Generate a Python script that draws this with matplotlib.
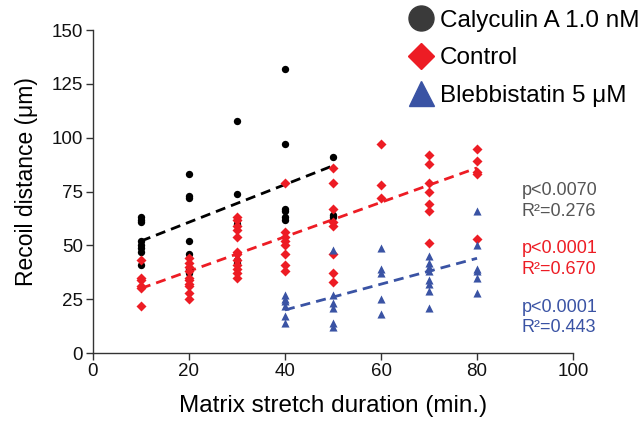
import numpy as np
import matplotlib.pyplot as plt
from matplotlib.lines import Line2D

plt.rcParams['font.family'] = ['Liberation Sans', 'DejaVu Sans']

# --- data ---
cal_x = [10]*8 + [20]*8 + [30]*6 + [40]*6 + [50]*3
cal_y = [63, 62, 61, 52, 50, 49, 47, 41,
         83, 73, 72, 52, 46, 39, 38, 37,
         108, 74, 62, 60, 43, 42,
         132, 97, 67, 66, 63, 62,
         91, 64, 63]

ctl_x = [10]*6 + [20]*10 + [30]*12 + [40]*8 + [50]*8 + [60]*3 + [70]*7 + [80]*5
ctl_y = [43, 35, 34, 31, 30, 22,
         44, 42, 40, 38, 35, 34, 32, 31, 28, 25,
         63, 62, 59, 57, 54, 47, 46, 43, 41, 39, 37, 35,
         79, 56, 54, 52, 50, 46, 41, 38,
         86, 79, 67, 61, 59, 46, 37, 33,
         97, 78, 72,
         92, 88, 79, 75, 69, 66, 51,
         95, 89, 84, 83, 53]

bleb_x = [40]*6 + [50]*6 + [60]*5 + [70]*8 + [80]*6
bleb_y = [27, 25, 24, 22, 17, 14,
          48, 27, 23, 21, 14, 12,
          49, 39, 37, 25, 18,
          45, 42, 40, 38, 34, 32, 29, 21,
          66, 50, 39, 38, 35, 28]

# regression line end points (as drawn in the reference)
cal_fit_x, cal_fit_y = [10, 50], [52, 87]
ctl_fit_x, ctl_fit_y = [10, 80], [30, 86]
bleb_fit_x, bleb_fit_y = [40, 80], [20, 44]

stats = [('p<0.0070\nR²=0.276', '#555555', 70.5),
         ('p<0.0001\nR²=0.670', '#ED1C24', 43.5),
         ('p<0.0001\nR²=0.443', '#3A53A4', 16.5)]

black, red, blue = '#000000', '#ED1C24', '#3A53A4'

fig = plt.figure(figsize=(6.41, 4.21), dpi=100)
ax = fig.add_axes([0.145, 0.1615, 0.749, 0.767])

ax.scatter(cal_x, cal_y, s=28, marker='o', color=black, zorder=3, linewidths=0)
ax.scatter(ctl_x, ctl_y, s=26, marker='D', color=red, zorder=3, linewidths=0)
ax.scatter(bleb_x, bleb_y, s=34, marker='^', color=blue, zorder=3, linewidths=0)

for fx, fy, c in [(cal_fit_x, cal_fit_y, black), (ctl_fit_x, ctl_fit_y, red),
                  (bleb_fit_x, bleb_fit_y, blue)]:
    ax.plot(fx, fy, color=c, lw=2, dashes=(3.6, 2.2), zorder=2)

for txt, c, yv in stats:
    ax.text(89.3, yv, txt, color=c, fontsize=13, va='center', ha='left',
            linespacing=1.3)

ax.set_xlim(0, 100)
ax.set_ylim(0, 150)
ax.set_xticks(np.arange(0, 101, 20))
ax.set_yticks(np.arange(0, 151, 25))
ax.tick_params(labelsize=13.5, length=5, width=1, color='#333333', colors='#111111', pad=2)
for side in ['top', 'right']:
    ax.spines[side].set_visible(False)
for side in ['left', 'bottom']:
    ax.spines[side].set_color('#333333')
    ax.spines[side].set_linewidth(1)

ax.set_xlabel('Matrix stretch duration (min.)', fontsize=17.5, labelpad=11)
ax.set_ylabel('Recoil distance (μm)', fontsize=16.5)
ax.yaxis.set_label_coords(-0.115, 0.53)

handles = [Line2D([], [], ls='', marker='o', ms=18, color='#3a3a3a', label='Calyculin A 1.0 nM'),
           Line2D([], [], ls='', marker='D', ms=13, color=red, label='Control'),
           Line2D([], [], ls='', marker='^', ms=18, color=blue, label='Blebbistatin 5 μM')]
fig.legend(handles=handles, loc='upper left', bbox_to_anchor=(0.622, 1.0),
           frameon=False, fontsize=17.5, handletextpad=0.3, labelspacing=0.64,
           handlelength=1.0, borderaxespad=0)

fig.savefig('out.png', dpi=100)
